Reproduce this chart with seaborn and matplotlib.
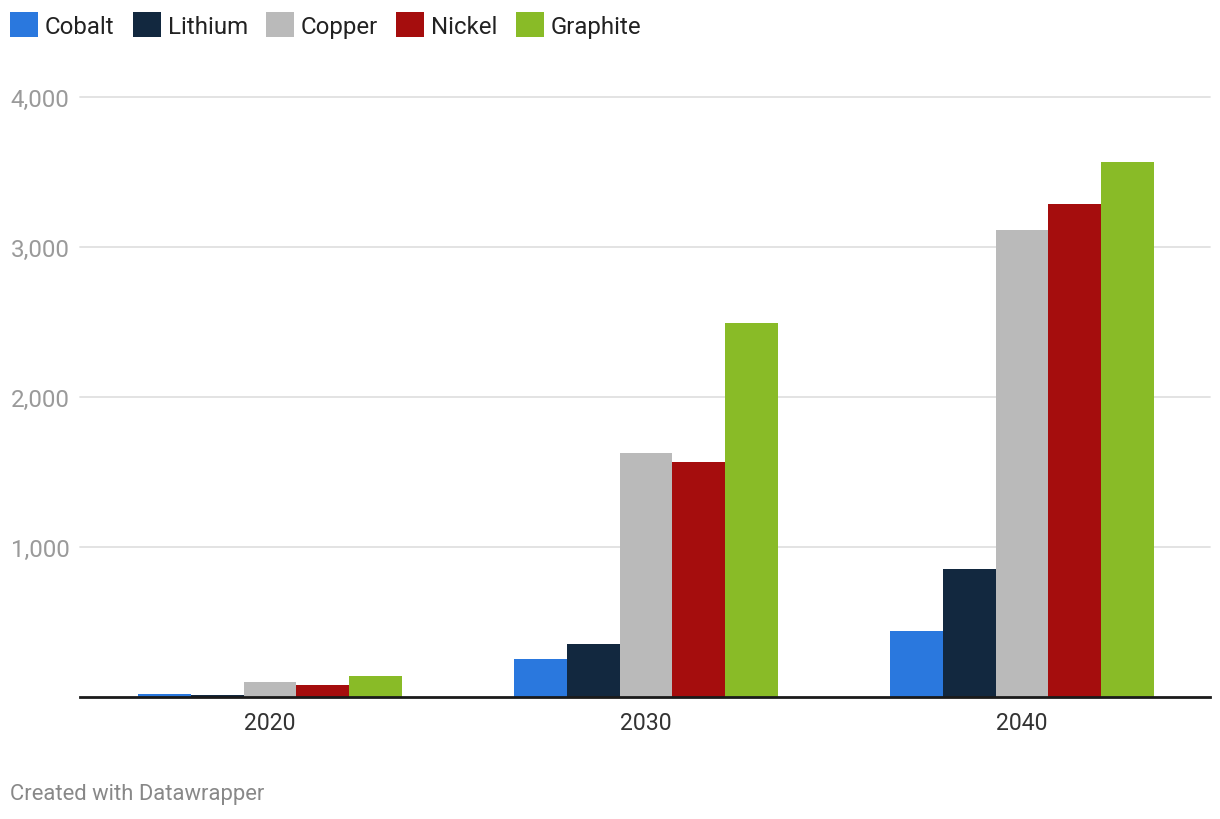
import pandas as pd
import matplotlib.pyplot as plt
import seaborn as sns
from matplotlib.patches import Patch
from matplotlib.ticker import FuncFormatter

# ===============================
# DATA
# ===============================
years = ["2020", "2030", "2040"]
materials = ["Cobalt", "Lithium", "Copper", "Nickel", "Graphite"]
cobalt = [18, 253, 440]
lithium = [16, 353, 853]
copper = [102, 1627, 3113]
nickel = [78, 1567, 3287]
graphite = [138, 2493, 3567]

colors = ["#2a78de", "#12283f", "#bababa", "#a50d0d", "#89bb27"]

rows = []
for name, vals in zip(materials, [cobalt, lithium, copper, nickel, graphite]):
    for y, v in zip(years, vals):
        rows.append({"year": y, "material": name, "value": v})
df = pd.DataFrame(rows)

# ===============================
# PLOT
# ===============================
sns.set_style("white")
plt.rcParams["font.family"] = ["Roboto", "DejaVu Sans"]

fig = plt.figure(figsize=(12.2, 8.2), dpi=100)
ax = fig.add_axes([80 / 1220, 1 - 698 / 820, 1130 / 1220, 600 / 820])

sns.barplot(
    data=df, x="year", y="value", hue="material",
    hue_order=materials, palette=colors, width=0.7,
    saturation=1, edgecolor="none", ax=ax, legend=False
)

ax.set_ylim(0, 4000)
ax.set_xlim(-0.505, 2.5)
ax.set_yticks([1000, 2000, 3000, 4000])
ax.yaxis.set_major_formatter(FuncFormatter(lambda v, p: f"{int(v):,}"))
ax.grid(axis="y", color="#e1e1e1", linewidth=1.3)
ax.set_axisbelow(True)
for s in ["top", "right", "left"]:
    ax.spines[s].set_visible(False)
ax.spines["bottom"].set_color("#1a1a1a")
ax.spines["bottom"].set_linewidth(2)
ax.set_xlabel("")
ax.set_ylabel("")

ax.tick_params(axis="y", length=0, labelsize=17.4, labelcolor="#9a9a9a", pad=50)
for lbl in ax.get_yticklabels():
    lbl.set_horizontalalignment("left")
for gl in ax.get_ygridlines():
    gl.set_clip_on(False)
ax.tick_params(axis="x", length=0, labelsize=16.6, labelcolor="#333333", pad=10)

# legend across the top
handles = [Patch(facecolor=c, edgecolor="none") for c in colors]
fig.legend(
    handles, materials, loc="upper left", bbox_to_anchor=(10 / 1220, 1 - 13 / 820),
    ncol=5, frameon=False, fontsize=17.3, handlelength=1.17,
    handleheight=1.25, handletextpad=0.29, columnspacing=0.75,
    borderaxespad=0, borderpad=0, labelcolor="#222222"
)

fig.text(10 / 1220, 1 - 795 / 820, "Created with Datawrapper",
         fontsize=15.8, color="#888888", va="center", ha="left")

fig.savefig("out.png", dpi=100)
plt.close()
